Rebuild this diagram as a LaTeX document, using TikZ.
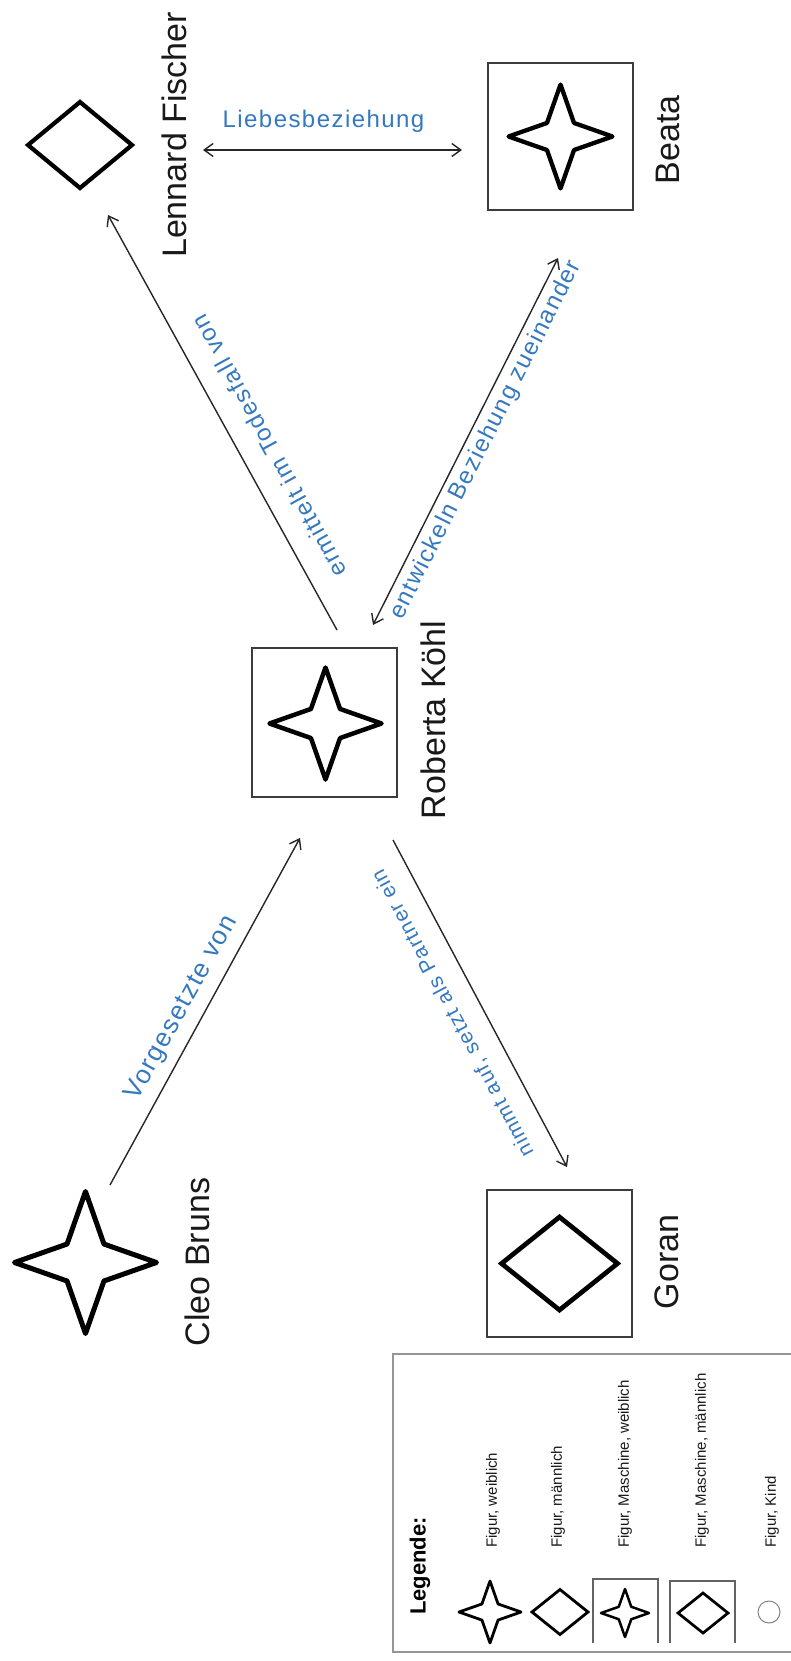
\documentclass[tikz,border=0pt]{standalone}
\usepackage{fontspec}
\setmainfont{Liberation Sans}
\newfontfamily\lblfont[LetterSpace=6]{Liberation Sans}
\usetikzlibrary{arrows.meta}
\definecolor{lblblue}{RGB}{52,120,192}
\definecolor{boxgray}{RGB}{60,60,60}
\definecolor{leggray}{RGB}{150,150,150}
\definecolor{namecol}{RGB}{25,25,25}
\tikzset{
  figbox/.style={draw=boxgray, line width=2pt, inner sep=0pt, minimum width=145pt, minimum height=147pt},
  namelbl/.style={rotate=90, font=\fontsize{34}{40}\selectfont, text=namecol, inner sep=0pt},
  rellbl/.style={text=lblblue, font={\lblfont\fontsize{24}{28}\selectfont}, inner sep=0pt},
  smallrel/.style={text=lblblue, font={\lblfont\fontsize{21}{25}\selectfont}, inner sep=0pt},
  leglbl/.style={rotate=90, anchor=west, font=\fontsize{15}{18}\selectfont, text=namecol, inner sep=0pt},
  conn/.style={draw=black!85, line width=1.4pt},
  tip/.style={-{Straight Barb[length=9pt,width=13pt,line width=1.4pt]}},
  bitip/.style={{Straight Barb[length=9pt,width=13pt,line width=1.4pt]}-{Straight Barb[length=9pt,width=13pt,line width=1.4pt]}},
  pics/fourstar/.style args={#1/#2}{code={
    \draw[line width=#2, line join=round, draw=black]
      (0,-#1) -- (0.26*#1,-0.26*#1) -- (#1,0) -- (0.26*#1,0.26*#1) -- (0,#1)
      -- (-0.26*#1,0.26*#1) -- (-#1,0) -- (-0.26*#1,-0.26*#1) -- cycle;}},
  pics/rhomb/.style args={#1/#2/#3}{code={
    \draw[line width=#3, line join=miter, draw=black]
      (0,-#2) -- (#1,0) -- (0,#2) -- (-#1,0) -- cycle;}}
}
\begin{document}
\begin{tikzpicture}[x=1pt,y=-1pt]
\useasboundingbox (0,0) rectangle (790,1661);

% figures
\coordinate (lennard) at (80,145);
\pic at (lennard) {rhomb=52/43/4.2pt};
\node[namelbl] (lennardname) at (174,135) {Lennard Fischer};

\node[figbox] (beata) at (560.5,136.5) {};
\pic at (beata) {fourstar=52/4.3pt};
\node[namelbl] (beataname) at (668,140) {Beata};

\node[figbox, minimum height=149pt] (roberta) at (324.5,722.5) {};
\pic at (325.5,723.5) {fourstar=56/4.5pt};
\node[namelbl] (robertaname) at (433,720) {Roberta Köhl};

\coordinate (cleo) at (85.5,1262.5);
\pic at (cleo) {fourstar=71/5pt};
\node[namelbl] (cleoname) at (197,1262) {Cleo Bruns};

\node[figbox] (goran) at (559.5,1263.5) {};
\pic at (goran) {rhomb=58/46.5/4.7pt};
\node[namelbl] (goranname) at (667,1262) {Goran};

% connector ends
\coordinate (l1) at (203,150); \coordinate (b1) at (462,150);
\coordinate (r2) at (337,630); \coordinate (l2) at (108,215);
\coordinate (r3) at (373,625); \coordinate (b3) at (558,258);
\coordinate (c4) at (110,1185); \coordinate (r4) at (300,838);
\coordinate (r5) at (393,840); \coordinate (g5) at (567,1167);

\draw[conn, bitip] (l1) -- (b1);
\draw[conn, tip] (r2) -- (l2);
\draw[conn, bitip] (r3) -- (b3);
\draw[conn, tip] (c4) -- (r4);
\draw[conn, tip] (r5) -- (g5);

\node[rellbl] (lab1) at (323.5,121) {Liebesbeziehung};
\node[rellbl, rotate=118.9] (lab2) at (269,446) {ermittelt im Todesfall von};
\node[rellbl, rotate=63.25] (lab3) at (486,440) {entwickeln Beziehung zueinander};
\node[rellbl, rotate=61.3, font={\lblfont\fontsize{26}{30}\selectfont}] (lab4) at (182,1008) {Vorgesetzte von};
\node[smallrel, rotate=118] (lab5) at (453,1013) {nimmt auf, setzt als Partner ein};

% legend
\draw[leggray, line width=2pt] (800,1354) -- (393,1354) -- (393,1652) -- (800,1652);
\node[rotate=90, anchor=west, font=\bfseries\fontsize{22}{26}\selectfont, inner sep=0pt] (legtitle) at (420,1615) {Legende:};

\pic at (490,1612) {fourstar=31/2.8pt};
\node[leglbl] (leg1) at (493,1548) {Figur, weiblich};

\pic at (560,1612) {rhomb=28/22.5/2.8pt};
\node[leglbl] (leg2) at (558,1548) {Figur, männlich};

\draw[boxgray!80, line width=1.3pt] (593,1643) -- (593,1579) -- (658,1579) -- (658,1643);
\pic at (625,1613) {fourstar=24/2.5pt};
\node[leglbl] (leg3) at (625,1548) {Figur, Maschine, weiblich};

\draw[boxgray!80, line width=1.3pt] (670,1643) -- (670,1581) -- (735,1581) -- (735,1643);
\pic at (703,1613) {rhomb=25/20/2.7pt};
\node[leglbl] (leg4) at (702,1548) {Figur, Maschine, männlich};

\draw[gray, line width=1pt] (769,1612) circle[radius=11pt];
\node[leglbl] (leg5) at (772,1548) {Figur, Kind};
\end{tikzpicture}
\end{document}
